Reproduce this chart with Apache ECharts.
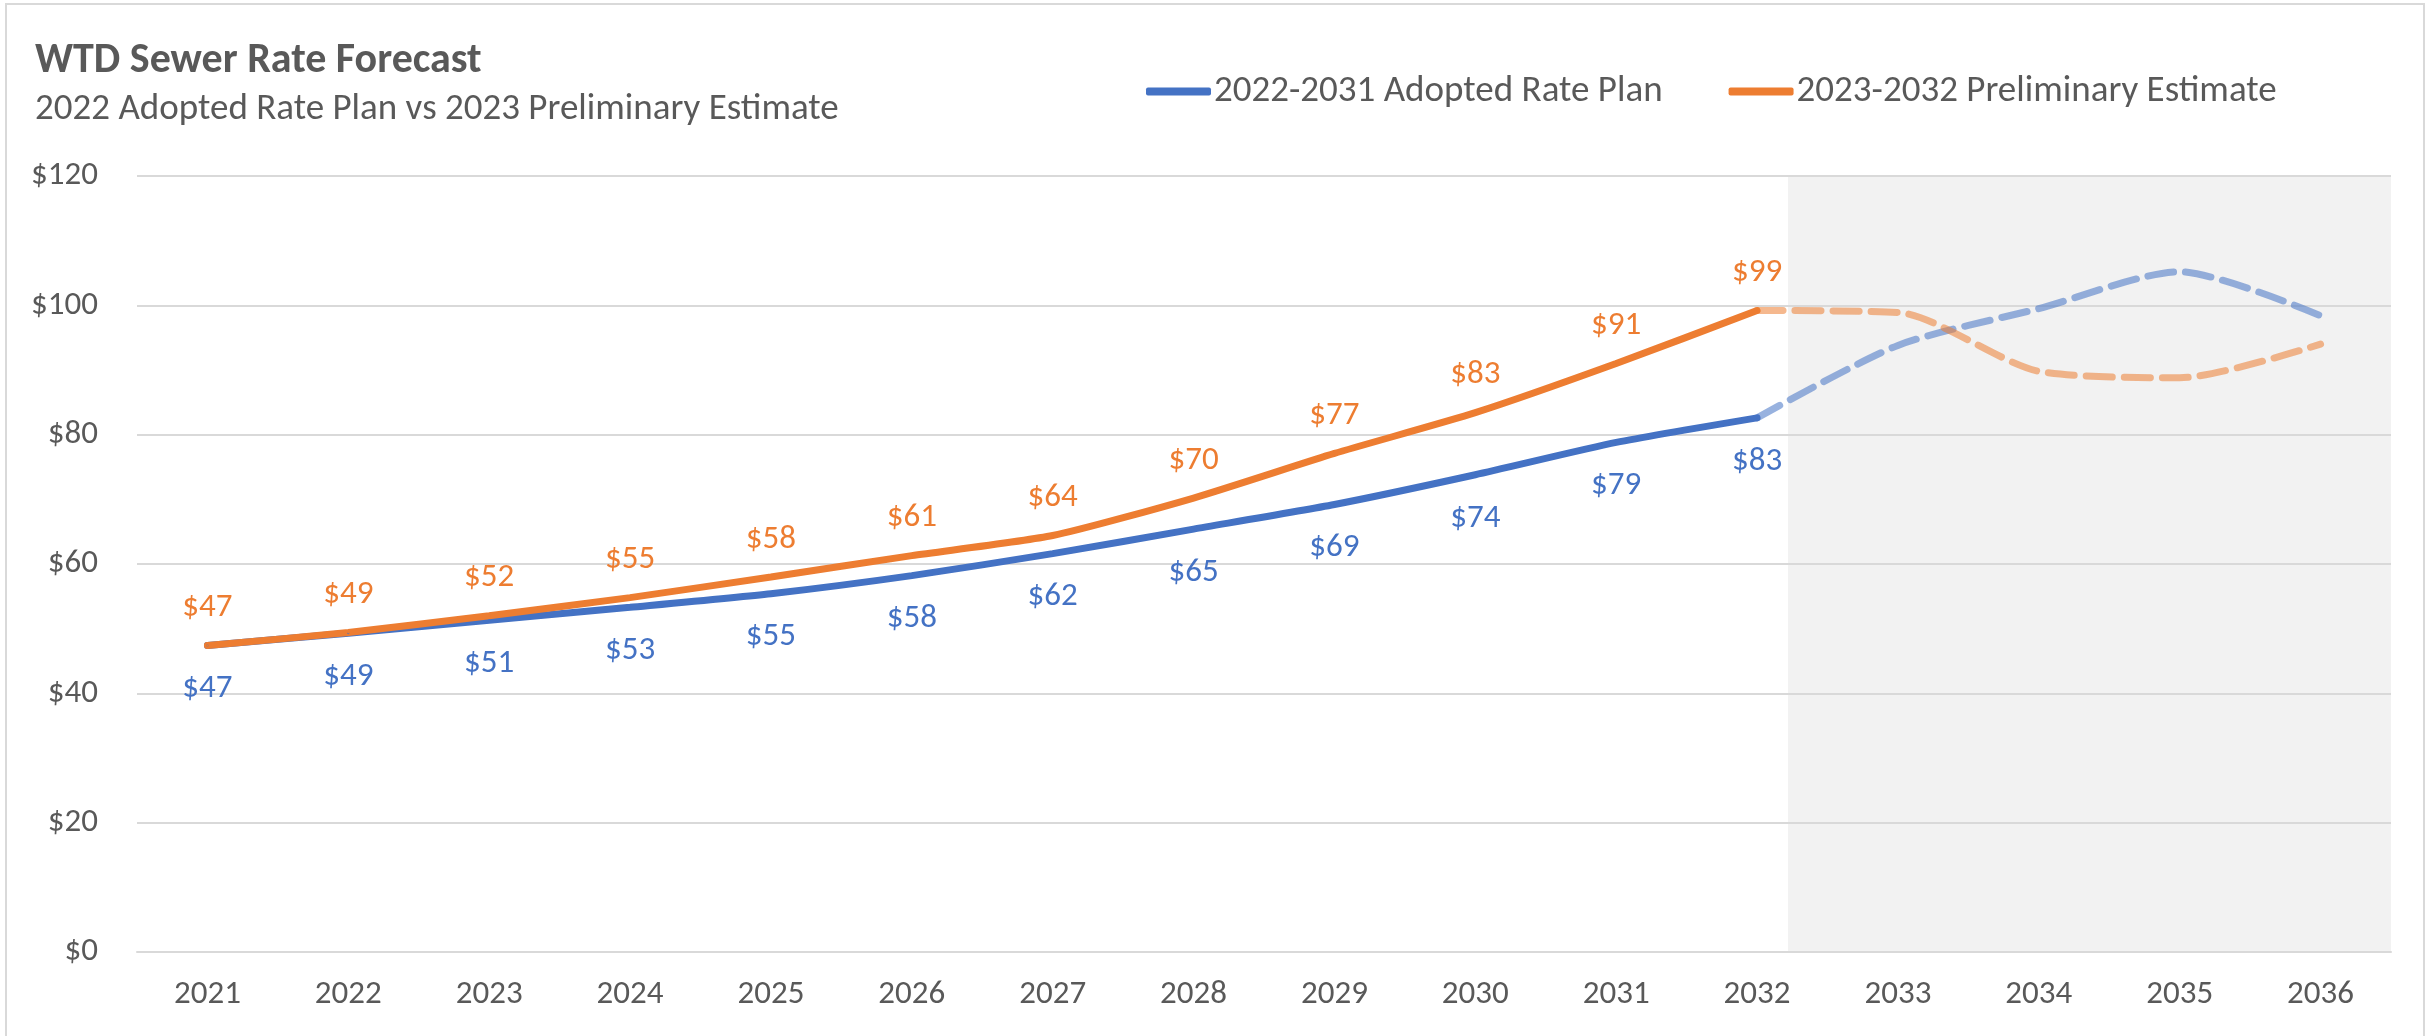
<!DOCTYPE html>
<html>
<head>
<meta charset="utf-8">
<script src="https://cdn.jsdelivr.net/npm/echarts@6/dist/echarts.min.js"></script>
<style>
  html, body { margin: 0; padding: 0; background: #fff; }
  #chart { width: 2428px; height: 1036px; }
</style>
</head>
<body>
<div id="chart"></div>
<script>
  const years = ['2021', '2022', '2023', '2024', '2025', '2026', '2027', '2028',
    '2029', '2030', '2031', '2032', '2033', '2034', '2035', '2036']
  // solid part (2021-2032)
  const adopted = [47.4, 49.3, 51.3, 53.3, 55.4, 58.2, 61.6, 65.4, 69.2, 73.8, 78.8, 82.6]
  const prelim = [47.4, 49.4, 52.0, 54.8, 58.0, 61.3, 64.4, 70.2, 77.1, 83.4, 91.0, 99.2]
  // dashed outlook (2032-2036)
  const adoptedOut = [82.6, 93.8, 99.5, 105.2, 98.4]
  const prelimOut = [99.2, 98.9, 89.8, 88.8, 94.0]
  const yTicks = [0, 20, 40, 60, 80, 100, 120]
  const shadeFrom = 11.22 // category index where the grey box starts

  const blue = '#4472C4'
  const orange = '#ED7D31'
  const textGrey = '#595959'
  const font = 'Carlito, Lato, sans-serif'

  // pad a short series so it lines up with the year axis
  const pad = (arr, before) => {
    const out = []
    for (let i = 0; i < years.length; i++) {
      const k = i - before
      out.push(k >= 0 && k < arr.length ? arr[k] : null)
    }
    return out
  }

  const chart = echarts.init(document.getElementById('chart'))

  const solidLabel = (pos) => ({
    show: true,
    position: pos,
    distance: pos === 'top' ? 20 : 26,
    color: pos === 'top' ? orange : blue,
    fontFamily: font,
    fontSize: 33,
    formatter: p => '$' + Math.round(p.value)
  })

  const option = {
    backgroundColor: '#fff',
    animation: false,
    textStyle: { fontFamily: font },
    title: [
      {
        text: 'WTD Sewer Rate Forecast',
        left: 30,
        top: 35,
        textStyle: { color: textGrey, fontSize: 42, fontWeight: 'bold', fontFamily: font }
      },
      {
        text: '2022 Adopted Rate Plan vs 2023 Preliminary Estimate',
        left: 30,
        top: 86,
        textStyle: { color: textGrey, fontSize: 37, fontWeight: 'normal', fontFamily: font }
      }
    ],
    legend: {
      data: ['2022-2031 Adopted Rate Plan', '2023-2032 Preliminary Estimate'],
      left: 1141,
      top: 68,
      icon: 'roundRect',
      itemWidth: 65,
      itemHeight: 8,
      itemGap: 66,
      textStyle: { color: textGrey, fontSize: 37, fontFamily: font, padding: [0, 0, 0, -2] }
    },
    grid: { left: 137, right: 37, top: 176, bottom: 84 },
    xAxis: [
      {
        type: 'category',
        data: years,
        z: 2,
        axisLine: { lineStyle: { color: '#D9D9D9', width: 2 } },
        axisTick: { show: false },
        axisLabel: { color: textGrey, fontSize: 33, fontFamily: font, margin: 26 }
      },
      { type: 'value', min: -0.5, max: years.length - 0.5, show: false }
    ],
    yAxis: {
      type: 'value',
      min: yTicks[0],
      max: yTicks[yTicks.length - 1],
      interval: 20,
      z: 2,
      axisLine: { show: false },
      axisTick: { show: false },
      axisLabel: { color: textGrey, fontSize: 33, fontFamily: font, margin: 39, formatter: '${value}' },
      splitLine: { lineStyle: { color: '#D9D9D9', width: 2 } }
    },
    series: [
      {
        name: 'shade',
        type: 'line',
        xAxisIndex: 1,
        data: [],
        z: 0,
        silent: true,
        markArea: {
          silent: true,
          z: 0,
          itemStyle: { color: '#F2F2F2' },
          data: [[{ xAxis: shadeFrom }, { xAxis: years.length - 0.5 }]]
        }
      },
      {
        name: 'adopted outlook',
        type: 'line',
        data: pad(adoptedOut, 11),
        z: 3,
        smooth: 0.25,
        showSymbol: false,
        lineStyle: { color: blue, width: 7, opacity: 0.55, type: [26, 12], cap: 'round' },
        itemStyle: { color: blue }
      },
      {
        name: 'prelim outlook',
        type: 'line',
        data: pad(prelimOut, 11),
        z: 3,
        smooth: 0.25,
        showSymbol: false,
        lineStyle: { color: orange, width: 7, opacity: 0.55, type: [26, 12], cap: 'round' },
        itemStyle: { color: orange }
      },
      {
        name: '2022-2031 Adopted Rate Plan',
        type: 'line',
        data: pad(adopted, 0),
        z: 4,
        smooth: 0.2,
        symbol: 'circle',
        symbolSize: 2,
        lineStyle: { color: blue, width: 7, cap: 'round' },
        itemStyle: { color: blue },
        label: solidLabel('bottom')
      },
      {
        name: '2023-2032 Preliminary Estimate',
        type: 'line',
        data: pad(prelim, 0),
        z: 4,
        smooth: 0.2,
        symbol: 'circle',
        symbolSize: 2,
        lineStyle: { color: orange, width: 7, cap: 'round' },
        itemStyle: { color: orange },
        label: solidLabel('top')
      }
    ],
    graphic: [
      {
        type: 'rect',
        silent: true,
        shape: { x: 6, y: 4, width: 2418, height: 1050 },
        style: { fill: null, stroke: '#D9D9D9', lineWidth: 2 }
      }
    ]
  }

  chart.setOption(option)
</script>
</body>
</html>
